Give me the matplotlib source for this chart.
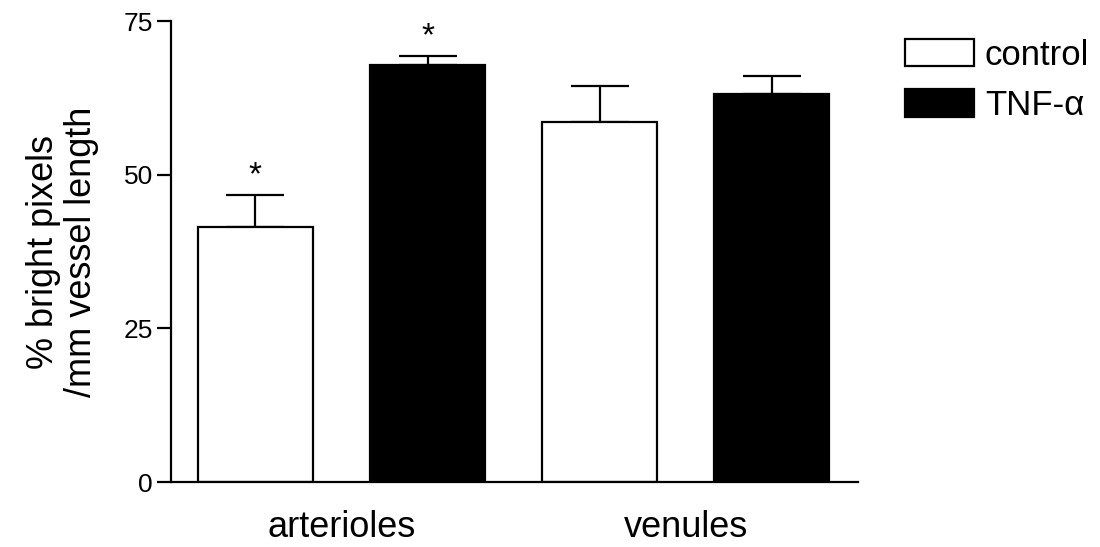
import matplotlib
matplotlib.use("Agg")
import matplotlib.pyplot as plt
import numpy as np

plt.rcParams['font.family'] = ['Liberation Sans', 'DejaVu Sans']

categories = ["arterioles", "venules"]
series = ["control", "TNF-\u03b1"]
means = {"control": [41.5, 58.5], "TNF-\u03b1": [67.9, 63.2]}
errors = {"control": [5.2, 6.0], "TNF-\u03b1": [1.4, 2.8]}
significant = {"control": [True, False], "TNF-\u03b1": [True, False]}
yticks = [0, 25, 50, 75]
ylabel = "% bright pixels\n/mm vessel length"

face = {"control": "white", "TNF-\u03b1": "black"}

fig = plt.figure(figsize=(11, 5.47), dpi=100)
ax = fig.add_axes([0.1555, 0.1188, 0.6245, 0.8428])

width = 0.667
for si, s in enumerate(series):
    xs = np.arange(len(categories)) * 2 + si
    ax.bar(xs, means[s], width=width, color=face[s], edgecolor="black",
           linewidth=1.6, label=s, zorder=2)
    ax.errorbar(xs, means[s], yerr=[np.zeros(len(xs)), errors[s]], fmt="none",
                ecolor="black", elinewidth=1.6, capsize=21, capthick=1.6, zorder=1)
    for x, m, e, sig in zip(xs, means[s], errors[s], significant[s]):
        if sig:
            ax.text(x, m + e + 0.6, "*", ha="center", va="bottom", fontsize=24)

ax.set_xlim(-0.49, 3.5)
ax.set_ylim(0, 75)
ax.set_yticks(yticks)
ax.set_xticks(np.arange(len(categories)) * 2 + 0.5)
ax.set_xticklabels(categories, fontsize=26)
ax.tick_params(axis="x", length=0, pad=20)
ax.tick_params(axis="y", labelsize=19, length=10, width=1.6, pad=3)
for sp in ["top", "right"]:
    ax.spines[sp].set_visible(False)
for sp in ["left", "bottom"]:
    ax.spines[sp].set_linewidth(1.6)
ax.set_ylabel(ylabel, fontsize=26, labelpad=18, linespacing=1.1)

fig.legend(loc="upper left", bbox_to_anchor=(0.810, 0.955), frameon=False,
           fontsize=25, handlelength=2.0, handleheight=0.85, handletextpad=0.3,
           labelspacing=0.5, borderaxespad=0)

fig.savefig("out.png", dpi=100)
